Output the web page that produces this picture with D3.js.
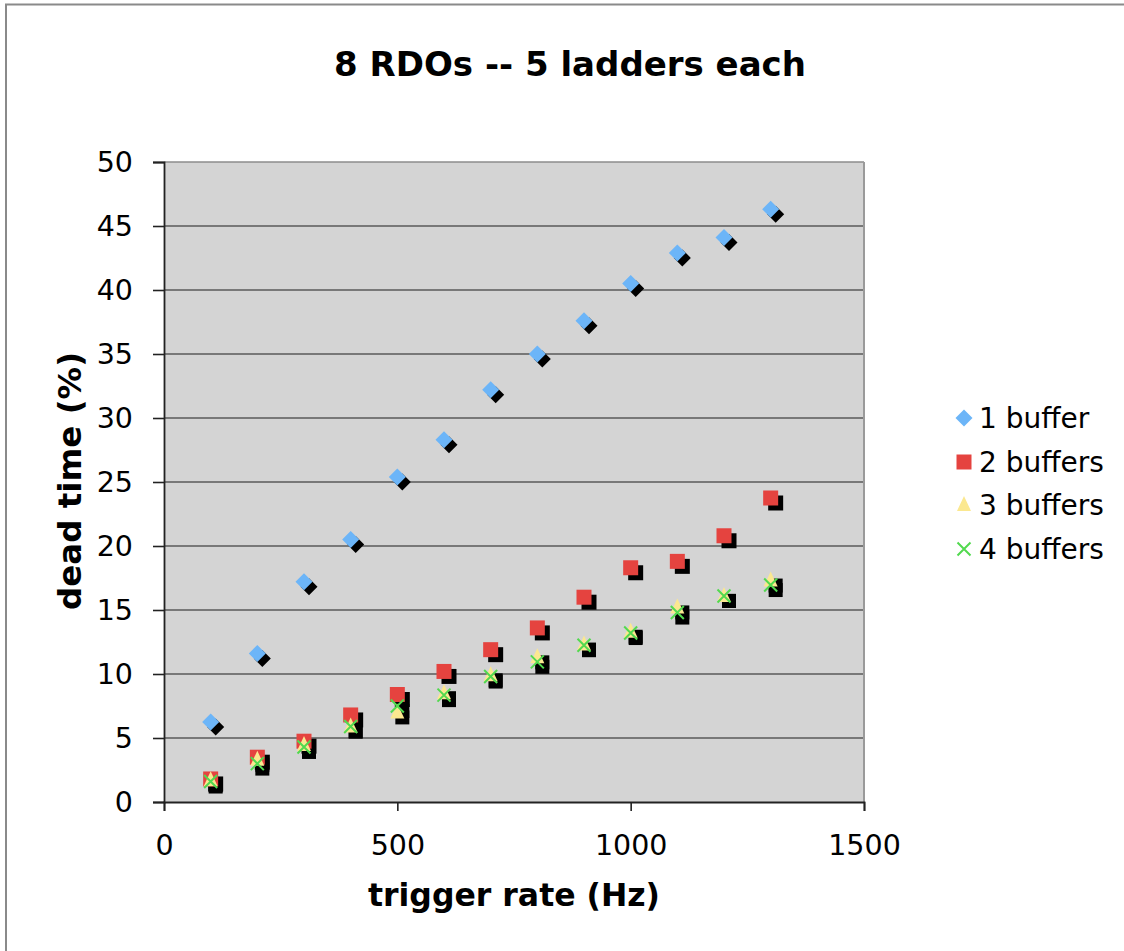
<!DOCTYPE html>
<html>
<head>
<meta charset="utf-8">
<script src="https://cdn.jsdelivr.net/npm/d3@7"></script>
<style>
  html, body { margin: 0; padding: 0; background: #fff; }
  svg { display: block; }
  text { font-family: "DejaVu Sans", Verdana, sans-serif; fill: #000; }
</style>
</head>
<body>
<svg id="chart" width="1124" height="951"></svg>
<script>
// Trigger rates (Hz) at which dead time was measured
const rates = [100, 200, 300, 400, 500, 600, 700, 800, 900, 1000, 1100, 1200, 1300];

// Dead time (%) for each buffer configuration
const oneBuffer   = [6.25, 11.6, 17.2, 20.5, 25.4, 28.3, 32.2, 35.0, 37.6, 40.5, 42.9, 44.1, 46.3];
const twoBuffers  = [1.8, 3.5, 4.75, 6.8, 8.4, 10.2, 11.9, 13.6, 16.0, 18.3, 18.8, 20.8, 23.75];
const threeBuffers = [1.7, 3.3, 4.45, 5.9, 7.0, 8.5, 9.9, 11.3, 12.3, 13.3, 15.2, 16.1, 17.3];
const fourBuffers = [1.6, 3.0, 4.3, 5.9, 7.5, 8.35, 9.8, 10.95, 12.25, 13.2, 14.8, 16.1, 16.95];

const seriesNames = ["1 buffer", "2 buffers", "3 buffers", "4 buffers"];
const xTicks = [0, 500, 1000, 1500];
const yTicks = [0, 5, 10, 15, 20, 25, 30, 35, 40, 45, 50];

const series = [
  { name: seriesNames[0], values: oneBuffer,    shape: "diamond",  color: "#6cb5f8" },
  { name: seriesNames[1], values: twoBuffers,   shape: "square",   color: "#e5433f" },
  { name: seriesNames[2], values: threeBuffers, shape: "triangle", color: "#fbe890" },
  { name: seriesNames[3], values: fourBuffers,  shape: "cross",    color: "#52d94f" }
];

const svg = d3.select("#chart");

// outer chart frame
svg.append("rect")
  .attr("x", 6).attr("y", 4.5).attr("width", 1130).attr("height", 960)
  .attr("fill", "none").attr("stroke", "#8a8a8a").attr("stroke-width", 2);

const plot = { left: 164, top: 162, right: 864, bottom: 802 };

const x = d3.scaleLinear().domain([0, 1500]).range([plot.left, plot.right]);
const y = d3.scaleLinear().domain([0, 50]).range([plot.bottom, plot.top]);

// plot area background
svg.append("rect")
  .attr("x", plot.left).attr("y", plot.top)
  .attr("width", plot.right - plot.left).attr("height", plot.bottom - plot.top)
  .attr("fill", "#d4d4d4");

// horizontal gridlines
svg.append("g")
  .selectAll("line")
  .data(yTicks.filter(d => d > 0))
  .join("line")
  .attr("x1", plot.left).attr("x2", plot.right)
  .attr("y1", d => y(d)).attr("y2", d => y(d))
  .attr("stroke", d => d === 50 ? "#8c8c8c" : "#5a5a5a")
  .attr("stroke-width", 1.6);

// right edge of the plot area
svg.append("line")
  .attr("x1", plot.right).attr("x2", plot.right)
  .attr("y1", plot.top).attr("y2", plot.bottom)
  .attr("stroke", "#9a9a9a").attr("stroke-width", 2);

// axes
const yAxis = d3.axisLeft(y).tickValues(yTicks).tickSize(11).tickPadding(20);
const xAxis = d3.axisBottom(x).tickValues(xTicks).tickFormat(d3.format("d"))
  .tickSize(9).tickPadding(24);

const gy = svg.append("g").attr("transform", `translate(${plot.left},0)`).call(yAxis);
const gx = svg.append("g").attr("transform", `translate(0,${plot.bottom})`).call(xAxis);

[gy, gx].forEach(g => {
  g.select(".domain").attr("stroke", "#222").attr("stroke-width", 1.8);
  g.selectAll(".tick line").attr("stroke", "#222").attr("stroke-width", 1.6);
  g.selectAll(".tick text")
    .attr("font-family", "DejaVu Sans, Verdana, sans-serif")
    .attr("font-size", 28.5).attr("fill", "#111");
});

// marker path generators (centred on 0,0)
function markerPath(shape) {
  const p = d3.path();
  if (shape === "diamond") {
    const r = 8.5;
    p.moveTo(0, -r); p.lineTo(r, 0); p.lineTo(0, r); p.lineTo(-r, 0); p.closePath();
  } else if (shape === "square") {
    const h = 7.5;
    p.rect(-h, -h, 2 * h, 2 * h);
  } else if (shape === "triangle") {
    p.moveTo(0, -9); p.lineTo(7, 6); p.lineTo(-7, 6); p.closePath();
  } else {
    const h = 6.5;
    p.moveTo(-h, -h); p.lineTo(h, h); p.moveTo(h, -h); p.lineTo(-h, h);
  }
  return p.toString();
}

function shadowPath(shape) {
  // shadows of the small markers read as solid blocks
  if (shape === "triangle" || shape === "cross") {
    const p = d3.path();
    p.rect(-7, -7, 14, 14);
    return p.toString();
  }
  return markerPath(shape);
}

const shadowOffset = 5;

// shadows first, then coloured markers on top
series.forEach(s => {
  svg.append("g")
    .selectAll("path")
    .data(s.values.map((v, i) => [rates[i], v]))
    .join("path")
    .attr("transform", d => `translate(${x(d[0]) + shadowOffset},${y(d[1]) + shadowOffset})`)
    .attr("d", shadowPath(s.shape))
    .attr("fill", "#000");
});

series.forEach(s => {
  const g = svg.append("g");
  const pts = g.selectAll("path")
    .data(s.values.map((v, i) => [rates[i], v]))
    .join("path")
    .attr("transform", d => `translate(${x(d[0])},${y(d[1])})`)
    .attr("d", markerPath(s.shape));
  if (s.shape === "cross") {
    pts.attr("fill", "none").attr("stroke", s.color).attr("stroke-width", 2);
  } else {
    pts.attr("fill", s.color);
  }
});

// title
svg.append("text")
  .attr("x", 570).attr("y", 76)
  .attr("text-anchor", "middle")
  .attr("font-size", 34).attr("font-weight", "bold")
  .text("8 RDOs -- 5 ladders each");

// axis titles
svg.append("text")
  .attr("x", 514).attr("y", 906)
  .attr("text-anchor", "middle")
  .attr("font-size", 31.5).attr("font-weight", "bold")
  .text("trigger rate (Hz)");

svg.append("text")
  .attr("transform", "translate(81,481) rotate(-90)")
  .attr("text-anchor", "middle")
  .attr("font-size", 32.5).attr("font-weight", "bold")
  .text("dead time (%)");

// legend
const legendRows = [418, 462, 505, 549];
const legend = svg.append("g");
series.forEach((s, i) => {
  const row = legend.append("g").attr("transform", `translate(964,${legendRows[i]})`);
  const m = row.append("path").attr("d", markerPath(s.shape));
  if (s.shape === "cross") {
    m.attr("fill", "none").attr("stroke", s.color).attr("stroke-width", 2);
  } else {
    m.attr("fill", s.color);
  }
  row.append("text")
    .attr("x", 15).attr("y", 0).attr("dy", "0.36em")
    .attr("font-size", 28)
    .text(s.name);
});
</script>
</body>
</html>
